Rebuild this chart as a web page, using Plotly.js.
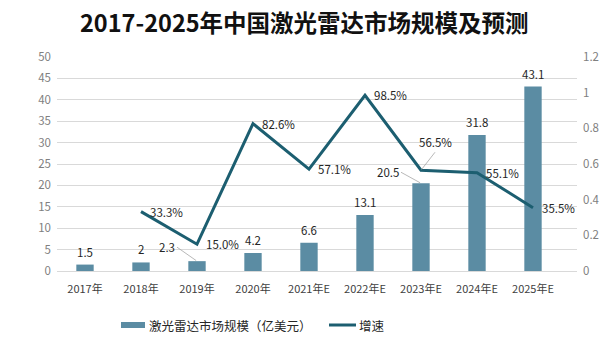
<!DOCTYPE html>
<html><head><meta charset="utf-8">
<script src="https://cdn.plot.ly/plotly-3.0.1.min.js"></script>
<style>body{margin:0;background:#fff}#c{width:606px;height:363px}</style>
</head><body><div id="c"></div>
<script>
var categories = ['2017年','2018年','2019年','2020年','2021年E','2022年E','2023年E','2024年E','2025年E'];
var marketSize = [1.5, 2, 2.3, 4.2, 6.6, 13.1, 20.5, 31.8, 43.1];
var growth = [null, 0.333, 0.150, 0.826, 0.571, 0.985, 0.565, 0.551, 0.355];
var growthLabels = ['', '33.3%', '15.0%', '82.6%', '57.1%', '98.5%', '56.5%', '55.1%', '35.5%'];
var seriesNames = ['激光雷达市场规模（亿美元）', '增速'];
var titleText = '2017-2025年中国激光雷达市场规模及预测';

var barColor = '#5b8ca3', lineColor = '#1c5e70';
var font = '"Noto Sans CJK SC", "Noto Sans", sans-serif';

// label offsets (pixels)
var barOff = {2: [-20, -14], 6: [-20, -11]};
var lineOff = {6: [14, -18]};

var annotations = [];
for (var i = 0; i < categories.length; i++) {
  var o = barOff[i];
  annotations.push({
    x: categories[i], y: marketSize[i], xref: 'x', yref: 'y',
    text: String(marketSize[i]), font: {size: 11.5, color: '#262626', family: font},
    showarrow: !!o, arrowhead: 0, arrowwidth: 0.8, arrowcolor: '#a6a6a6', standoff: 1,
    ax: o ? o[0] : 0, ay: o ? o[1] : 0,
    xanchor: o ? 'right' : 'center', yanchor: o ? 'middle' : 'bottom', yshift: o ? 0 : 3
  });
  if (growth[i] !== null) {
    var lo = lineOff[i];
    annotations.push({
      x: categories[i], y: growth[i], xref: 'x', yref: 'y2',
      text: growthLabels[i], font: {size: 11.5, color: '#262626', family: font},
      showarrow: !!lo, arrowhead: 0, arrowwidth: 0.8, arrowcolor: '#a6a6a6', standoff: 1,
      ax: lo ? lo[0] : 0, ay: lo ? lo[1] : 0,
      xanchor: lo ? 'center' : 'left', yanchor: lo ? 'bottom' : 'middle', xshift: lo ? 0 : 7
    });
  }
}
function px(x) { return (x - 57) / 520; }
function py(y) { return (271 - y) / 214; }
// title
annotations.push({text: '<b>' + titleText + '</b>', xref: 'paper', yref: 'paper',
  x: px(304), y: py(22), showarrow: false, xanchor: 'center', yanchor: 'middle',
  font: {size: 23.5, color: '#111', family: font}});
// legend texts
annotations.push({text: seriesNames[0], xref: 'paper', yref: 'paper', x: px(147), y: py(325),
  xanchor: 'left', yanchor: 'middle', showarrow: false, font: {size: 12.5, color: '#262626', family: font}});
annotations.push({text: seriesNames[1], xref: 'paper', yref: 'paper', x: px(357), y: py(325),
  xanchor: 'left', yanchor: 'middle', showarrow: false, font: {size: 12.5, color: '#262626', family: font}});

var shapes = [
  {type: 'rect', xref: 'paper', yref: 'paper', x0: px(121), x1: px(145), y0: py(328), y1: py(322),
   fillcolor: barColor, line: {width: 0}},
  {type: 'line', xref: 'paper', yref: 'paper', x0: px(329), x1: px(356), y0: py(325), y1: py(325),
   line: {color: lineColor, width: 3}}
];

var traces = [
  {type: 'bar', x: categories, y: marketSize, name: seriesNames[0], marker: {color: barColor},
   width: 0.31, hoverinfo: 'skip'},
  {type: 'scatter', mode: 'lines', x: categories, y: growth, yaxis: 'y2', name: seriesNames[1],
   line: {color: lineColor, width: 3}, connectgaps: false, hoverinfo: 'skip'}
];

var layout = {
  width: 606, height: 363, margin: {l: 57, r: 29, t: 57, b: 92},
  paper_bgcolor: '#fff', plot_bgcolor: '#fff', showlegend: false,
  font: {family: font, color: '#595959', size: 11},
  xaxis: {type: 'category', showgrid: false, showline: true, linecolor: '#d9d9d9', linewidth: 1,
    ticks: '', tickfont: {size: 11, color: '#404040'}, ticklabelstandoff: 8},
  yaxis: {range: [0, 50], dtick: 5, showgrid: true, gridcolor: '#d9d9d9', gridwidth: 1,
    zeroline: false, ticks: '', tickfont: {size: 11.5, color: '#808080'}, ticklabelstandoff: 5},
  yaxis2: {range: [0, 1.2], dtick: 0.2, overlaying: 'y', side: 'right', showgrid: false,
    zeroline: false, ticks: '', tickfont: {size: 11.5, color: '#808080'}, ticklabelstandoff: 5},
  annotations: annotations, shapes: shapes
};
Plotly.newPlot('c', traces, layout, {staticPlot: true, displayModeBar: false});
</script></body></html>
